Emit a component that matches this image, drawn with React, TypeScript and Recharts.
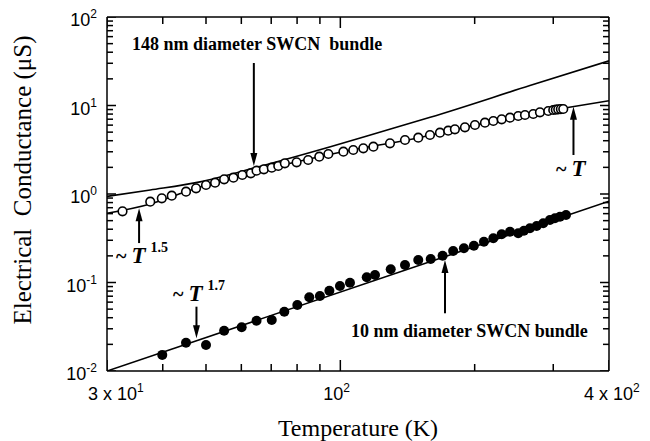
import { ScatterChart, Scatter, XAxis, YAxis, ReferenceLine, Customized } from "recharts"

// open circles, 148 nm bundle
const openT = [32.5, 37.5, 39.8, 41.9, 45.1, 47.5, 50.0, 52.4, 54.9, 57.6, 60.3, 63.0, 64.9, 67.4, 70.2, 72.6, 75.1, 79.8, 84.7, 89.7, 94.0, 101.6, 106.9, 112.6, 118.6, 129.2, 139.6, 149.5, 158.8, 167.2, 174.5, 180.6, 190.2, 200.3, 210.9, 220.2, 229.9, 240.0, 250.4, 259.3, 270.6, 280.1, 292.4, 300, 304, 307.8, 312, 315.9]
const openG = [0.637, 0.818, 0.894, 0.957, 1.062, 1.16, 1.264, 1.342, 1.466, 1.529, 1.64, 1.713, 1.834, 1.901, 1.983, 2.073, 2.223, 2.281, 2.422, 2.639, 2.831, 3.006, 3.142, 3.284, 3.424, 3.74, 4.076, 4.327, 4.642, 4.928, 5.192, 5.385, 5.672, 6.021, 6.391, 6.681, 6.983, 7.279, 7.609, 7.809, 8.017, 8.38, 8.668, 8.897, 8.98, 9.06, 9.1, 9.131]

// filled circles, 10 nm bundle
const filledT = [39.9, 45.1, 50.0, 54.9, 60.1, 64.9, 70.2, 74.9, 80.1, 85.2, 90.0, 94.5, 99.8, 105.1, 114.6, 119.6, 129.7, 139.6, 149.5, 159.4, 169.5, 179.0, 189.2, 199.2, 209.8, 220.2, 229.9, 240.0, 250.4, 257.9, 266.0, 275.4, 284.9, 294.9, 302.6, 310.6, 320.4]
const filledG = [0.0152, 0.0209, 0.0197, 0.0285, 0.0312, 0.037, 0.0377, 0.0468, 0.0557, 0.068, 0.0704, 0.0808, 0.0913, 0.0995, 0.1145, 0.1216, 0.141, 0.1576, 0.1796, 0.1843, 0.2009, 0.227, 0.2434, 0.2604, 0.2891, 0.3158, 0.3505, 0.375, 0.3597, 0.3848, 0.4098, 0.435, 0.4667, 0.5084, 0.5314, 0.5541, 0.579]

// fitted curves
const upperFitT = [30, 37.5, 48.5, 66, 95, 129, 159, 266, 400]
const upperFitG = [0.94, 1.11, 1.37, 2.05, 3.42, 5.4, 7.36, 16.8, 32]
const lowerFitT = [30, 37.5, 45, 55, 70, 100, 150, 200, 260, 326, 400]
const lowerFitG = [0.605, 0.77, 1.06, 1.46, 1.98, 2.97, 4.33, 6.0, 7.8, 9.55, 11.3]
const thinFitT = [30, 400]
const thinFitG = [0.01, 0.83]

// arrows: x position, tail, tip
const arrowT = [64, 35.4, 47.6, 171.6, 333]
const arrowFrom = [30.2, 0.279, 0.0533, 0.0449, 2.76]
const arrowTo = [2.07, 0.69, 0.0234, 0.18, 9.69]

const xMajor = [30, 100, 400]
const xMinor = [40, 50, 60, 70, 80, 90, 200, 300]
const yMajor = [0.01, 0.1, 1, 10, 100]
const yMinor = [0.01, 0.1, 1, 10].flatMap(d => [2, 3, 4, 5, 6, 7, 8, 9].map(m => +(d * m).toPrecision(3)))

const xTickLabels: Record<number, [string, string, number]> = {
  30: ["3 x 10", "1", -19],
  100: ["10", "2", -17],
  400: ["4 x 10", "2", -25],
}
const yExp: Record<number, string> = { 0.01: "-2", 0.1: "-1", 1: "0", 10: "1", 100: "2" }

const zip = (t: number[], g: number[]) => t.map((v, i) => ({ t: v, g: g[i] }))

const SANS = "'Liberation Sans', Arial, sans-serif"
const SERIF = "'Liberation Serif', 'Times New Roman', serif"

function LeftLabel(props: any) {
  const x = Number(props.x), y = Number(props.y), v = props.payload.value
  if (!yMajor.includes(v)) return <g />
  return (
    <text x={x - 10} y={y + 9} textAnchor="end" fontFamily={SANS} fontSize={18} fill="#000">
      10<tspan fontSize={12} dy={-8}>{yExp[v]}</tspan>
    </text>
  )
}

function BottomLabel(props: any) {
  const x = Number(props.x), y = Number(props.y)
  const lab = xTickLabels[props.payload.value]
  if (!lab) return <g />
  return (
    <text x={x + lab[2]} y={y + 29} fontFamily={SANS} fontSize={18} fill="#000">
      {lab[0]}<tspan fontSize={12} dy={-8}>{lab[1]}</tspan>
    </text>
  )
}

// tick marks as thin filled bars on the frame edges, pointing inward
const LeftMark = ({ cx, cy, payload }: any) => {
  const len = yMajor.includes(payload.g) ? 9 : 6
  return <rect x={cx} y={cy - 0.75} width={len} height={1.5} fill="#000" />
}
const RightMark = ({ cx, cy, payload }: any) => {
  const len = yMajor.includes(payload.g) ? 9 : 6
  return <rect x={cx - len} y={cy - 0.75} width={len} height={1.5} fill="#000" />
}
const BottomMark = ({ cx, cy, payload }: any) => {
  const len = xMajor.includes(payload.t) ? 11 : 7
  return <rect x={cx - 0.75} y={cy - len} width={1.5} height={len} fill="#000" />
}
const TopMark = ({ cx, cy, payload }: any) => {
  const len = xMajor.includes(payload.t) ? 11 : 7
  return <rect x={cx - 0.75} y={cy} width={1.5} height={len} fill="#000" />
}

function Arrow({ x1, y1, x2, y2 }: any) {
  const dir = y2 > y1 ? 1 : -1
  return (
    <g>
      <line x1={x1} y1={y1} x2={x2} y2={y2 - dir * 6} stroke="#000" strokeWidth={2} />
      <path d={`M${x2},${y2} L${x2 - 3.5},${y2 - dir * 13} L${x2 + 3.5},${y2 - dir * 13} Z`} fill="#000" />
    </g>
  )
}

function OpenDot({ cx, cy }: any) {
  return <circle cx={cx} cy={cy} r={4.3} fill="#fff" stroke="#000" strokeWidth={1.6} />
}

function FilledDot({ cx, cy }: any) {
  return <circle cx={cx} cy={cy} r={5} fill="#000" />
}

const NoDot = () => <g />

function Annotations() {
  return (
    <g fill="#000" fontFamily={SERIF}>
      <text x={132} y={50} fill="#000" fontSize={18} fontWeight="bold" style={{ whiteSpace: "pre" }}>148 nm diameter SWCN  bundle</text>
      <text x={351} y={337} fill="#000" fontSize={18} fontWeight="bold">10 nm diameter SWCN bundle</text>
      <text x={116} y={263} fill="#000" fontWeight="bold">
        <tspan fontSize={20}>~ </tspan>
        <tspan fontSize={23} fontStyle="italic">T</tspan>
        <tspan fontSize={14} dx={5} dy={-11}>1.5</tspan>
      </text>
      <text x={173} y={301} fill="#000" fontWeight="bold">
        <tspan fontSize={20}>~ </tspan>
        <tspan fontSize={23} fontStyle="italic">T</tspan>
        <tspan fontSize={14} dx={5} dy={-11}>1.7</tspan>
      </text>
      <text x={556} y={176} fill="#000" fontWeight="bold">
        <tspan fontSize={20}>~ </tspan>
        <tspan fontSize={23} fontStyle="italic">T</tspan>
      </text>
      <text transform="translate(31,180) rotate(-90)" textAnchor="middle" fill="#000" fontSize={25} style={{ whiteSpace: "pre" }}>
        Electrical  Conductance (μS)
      </text>
      <text x={358} y={436} textAnchor="middle" fill="#000" fontSize={24}>Temperature (K)</text>
    </g>
  )
}

export default function App() {
  const axisLine = { stroke: "#000", strokeWidth: 1.5 }
  const xTicks = [...xMajor, ...xMinor]
  const yTicks = [...yMajor, ...yMinor]
  return (
    <div style={{ position: "absolute", left: 0, top: 0, width: 650, height: 441, background: "#fff" }}>
      <ScatterChart width={650} height={441} margin={{ top: 17, right: 41, bottom: 69, left: 106 }}>
        <XAxis xAxisId="b" dataKey="t" type="number" scale="log" domain={[30, 400]} allowDataOverflow
          ticks={xTicks} interval={0} height={1} tickSize={0} tickMargin={0}
          tickLine={false} axisLine={axisLine} tick={BottomLabel} />
        <YAxis yAxisId="l" dataKey="g" type="number" scale="log" domain={[0.01, 100]} allowDataOverflow
          ticks={yTicks} interval={0} width={1} tickSize={0} tickMargin={0}
          tickLine={false} axisLine={axisLine} tick={LeftLabel} />

        {/* frame: right and top edges */}
        <ReferenceLine xAxisId="b" yAxisId="l" x={400} stroke="#000" strokeWidth={1.5} ifOverflow="visible" />
        <ReferenceLine xAxisId="b" yAxisId="l" y={100} stroke="#000" strokeWidth={1.5} ifOverflow="visible" />

        <Scatter xAxisId="b" yAxisId="l" data={yTicks.map(v => ({ t: 30, g: v }))} shape={LeftMark} isAnimationActive={false} />
        <Scatter xAxisId="b" yAxisId="l" data={yTicks.map(v => ({ t: 400, g: v }))} shape={RightMark} isAnimationActive={false} />
        <Scatter xAxisId="b" yAxisId="l" data={xTicks.map(v => ({ t: v, g: 0.01 }))} shape={BottomMark} isAnimationActive={false} />
        <Scatter xAxisId="b" yAxisId="l" data={xTicks.map(v => ({ t: v, g: 100 }))} shape={TopMark} isAnimationActive={false} />

        <Scatter xAxisId="b" yAxisId="l" data={zip(upperFitT, upperFitG)} line={{ stroke: "#000", strokeWidth: 1.6 }}
          lineJointType="monotoneX" shape={NoDot} isAnimationActive={false} />
        <Scatter xAxisId="b" yAxisId="l" data={zip(lowerFitT, lowerFitG)} line={{ stroke: "#000", strokeWidth: 1.6 }}
          lineJointType="monotoneX" shape={NoDot} isAnimationActive={false} />
        <Scatter xAxisId="b" yAxisId="l" data={zip(thinFitT, thinFitG)} line={{ stroke: "#000", strokeWidth: 1.6 }}
          shape={NoDot} isAnimationActive={false} />

        <Scatter xAxisId="b" yAxisId="l" data={zip(openT, openG)} shape={OpenDot} isAnimationActive={false} />
        <Scatter xAxisId="b" yAxisId="l" data={zip(filledT, filledG)} shape={FilledDot} isAnimationActive={false} />

        {arrowT.map((t, i) => (
          <ReferenceLine key={i} xAxisId="b" yAxisId="l" ifOverflow="visible"
            segment={[{ x: t, y: arrowFrom[i] }, { x: t, y: arrowTo[i] }]} shape={<Arrow />} />
        ))}

        <Customized component={Annotations} />
      </ScatterChart>
    </div>
  )
}
